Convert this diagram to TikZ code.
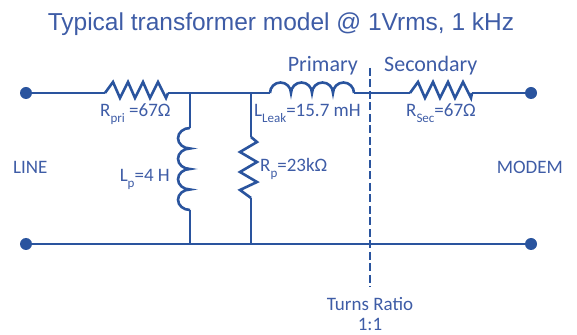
\documentclass[tikz,border=0pt]{standalone}
\usepackage{fontspec}
\setmainfont{Carlito}
\newfontfamily\titlefont{Liberation Sans}
\definecolor{wireblue}{RGB}{42,84,158}
\definecolor{textblue}{RGB}{62,92,166}
\newcommand{\lsub}[1]{\raisebox{-0.3em}{\fontsize{13}{13}\selectfont #1}}

\begin{document}
\begin{tikzpicture}[x=1pt,y=1pt]
      \tikzstyle{every node}+=[inner sep=0pt, text=textblue, font=\fontsize{19}{19}\selectfont]
      \tikzstyle{wire}=[wireblue, line width=2.6pt, line join=miter]
      \tikzstyle{ratio}=[wireblue, line width=2.4pt, dash pattern=on 8pt off 3.5pt]
      \useasboundingbox (0,0) rectangle (577,334);
      % terminals and junctions
      \coordinate (lineTop) at (26,241);
      \coordinate (lineBot) at (26,90);
      \coordinate (modemTop) at (531,241);
      \coordinate (modemBot) at (531,90);
      \coordinate (rpriA) at (105,241);
      \coordinate (rpriB) at (168,241);
      \coordinate (lpTop) at (190,241);
      \coordinate (lpBot) at (190,90);
      \coordinate (lpA) at (190,206);
      \coordinate (lpB) at (190,124);
      \coordinate (rpTop) at (251,241);
      \coordinate (rpBot) at (251,90);
      \coordinate (rpA) at (251,197);
      \coordinate (rpB) at (251,136);
      \coordinate (lleakA) at (270,241);
      \coordinate (lleakB) at (354,241);
      \coordinate (rsecA) at (410,241);
      \coordinate (rsecB) at (472,241);
      \coordinate (ratioTop) at (370,266);
      \coordinate (ratioBot) at (370,47);
      % wires
      \draw [wire] (lineTop) -- (rpriA);
      \draw [wire] (rpriA) -- ++(8,11) -- ++(7,-16) -- ++(8,16) -- ++(7,-16) -- ++(8,16) -- ++(7,-16) -- ++(8,16) -- ++(8,-16) -- (rpriB);
      \draw [wire] (rpriB) -- (lleakA);
      \draw [wire] (lleakA) arc [start angle=180, end angle=0, radius=10.5]
                            arc [start angle=180, end angle=0, radius=10.5]
                            arc [start angle=180, end angle=0, radius=10.5]
                            arc [start angle=180, end angle=0, radius=10.5] -- (lleakB);
      \draw [wire] (lleakB) -- (rsecA);
      \draw [wire] (rsecA) -- ++(8,11) -- ++(7,-16) -- ++(8,16) -- ++(7,-16) -- ++(8,16) -- ++(7,-16) -- ++(8,16) -- ++(8,-16) -- (rsecB);
      \draw [wire] (rsecB) -- (modemTop);
      \draw [wire] (lineBot) -- (modemBot);
      \draw [wire] (lpTop) -- (lpA);
      \draw [wire] (lpA) arc [start angle=90, end angle=270, x radius=12, y radius=10.25]
                         arc [start angle=90, end angle=270, x radius=12, y radius=10.25]
                         arc [start angle=90, end angle=270, x radius=12, y radius=10.25]
                         arc [start angle=90, end angle=270, x radius=12, y radius=10.25] -- (lpB);
      \draw [wire] (lpB) -- (lpBot);
      \draw [wire] (rpTop) -- (rpA);
      \draw [wire] (rpA) -- ++(6,-5) -- ++(-17,-10) -- ++(17,-10) -- ++(-17,-10) -- ++(17,-10) -- ++(-17,-8) -- (rpB);
      \draw [wire] (rpB) -- (rpBot);
      \fill [wireblue] (lineTop) circle (6);
      \fill [wireblue] (lineBot) circle (6);
      \fill [wireblue] (modemTop) circle (6);
      \fill [wireblue] (modemBot) circle (6);
      \draw [ratio] (ratioTop) -- (ratioBot);
      % labels
      \node [anchor=base, font=\titlefont\fontsize{24.5}{24.5}\selectfont] (title) at (281,303) {Typical transformer model @ 1Vrms, 1 kHz};
      \node [anchor=base east, font=\fontsize{22}{22}\selectfont] (primary) at (358,262) {Primary};
      \node [anchor=base west, font=\fontsize{22}{22}\selectfont] (secondary) at (384,262) {Secondary};
      \node [anchor=base west] (rpriLabel) at (100,217) {R\lsub{pri} =67Ω};
      \node [anchor=base west] (lleakLabel) at (254,217) {L\lsub{Leak}=15.7 mH};
      \node [anchor=base west] (rsecLabel) at (406,217) {R\lsub{Sec}=67Ω};
      \node [anchor=base east] (lpLabel) at (170,152) {L\lsub{p}=4 H};
      \node [anchor=base west] (rpLabel) at (260,162) {R\lsub{p}=23kΩ};
      \node [anchor=base west] (line) at (13,160) {LINE};
      \node [anchor=base east] (modem) at (563,160) {MODEM};
      \node [anchor=north, align=center] (turns) at (370,37) {Turns Ratio\\[1pt]1:1};
\end{tikzpicture}
\end{document}
